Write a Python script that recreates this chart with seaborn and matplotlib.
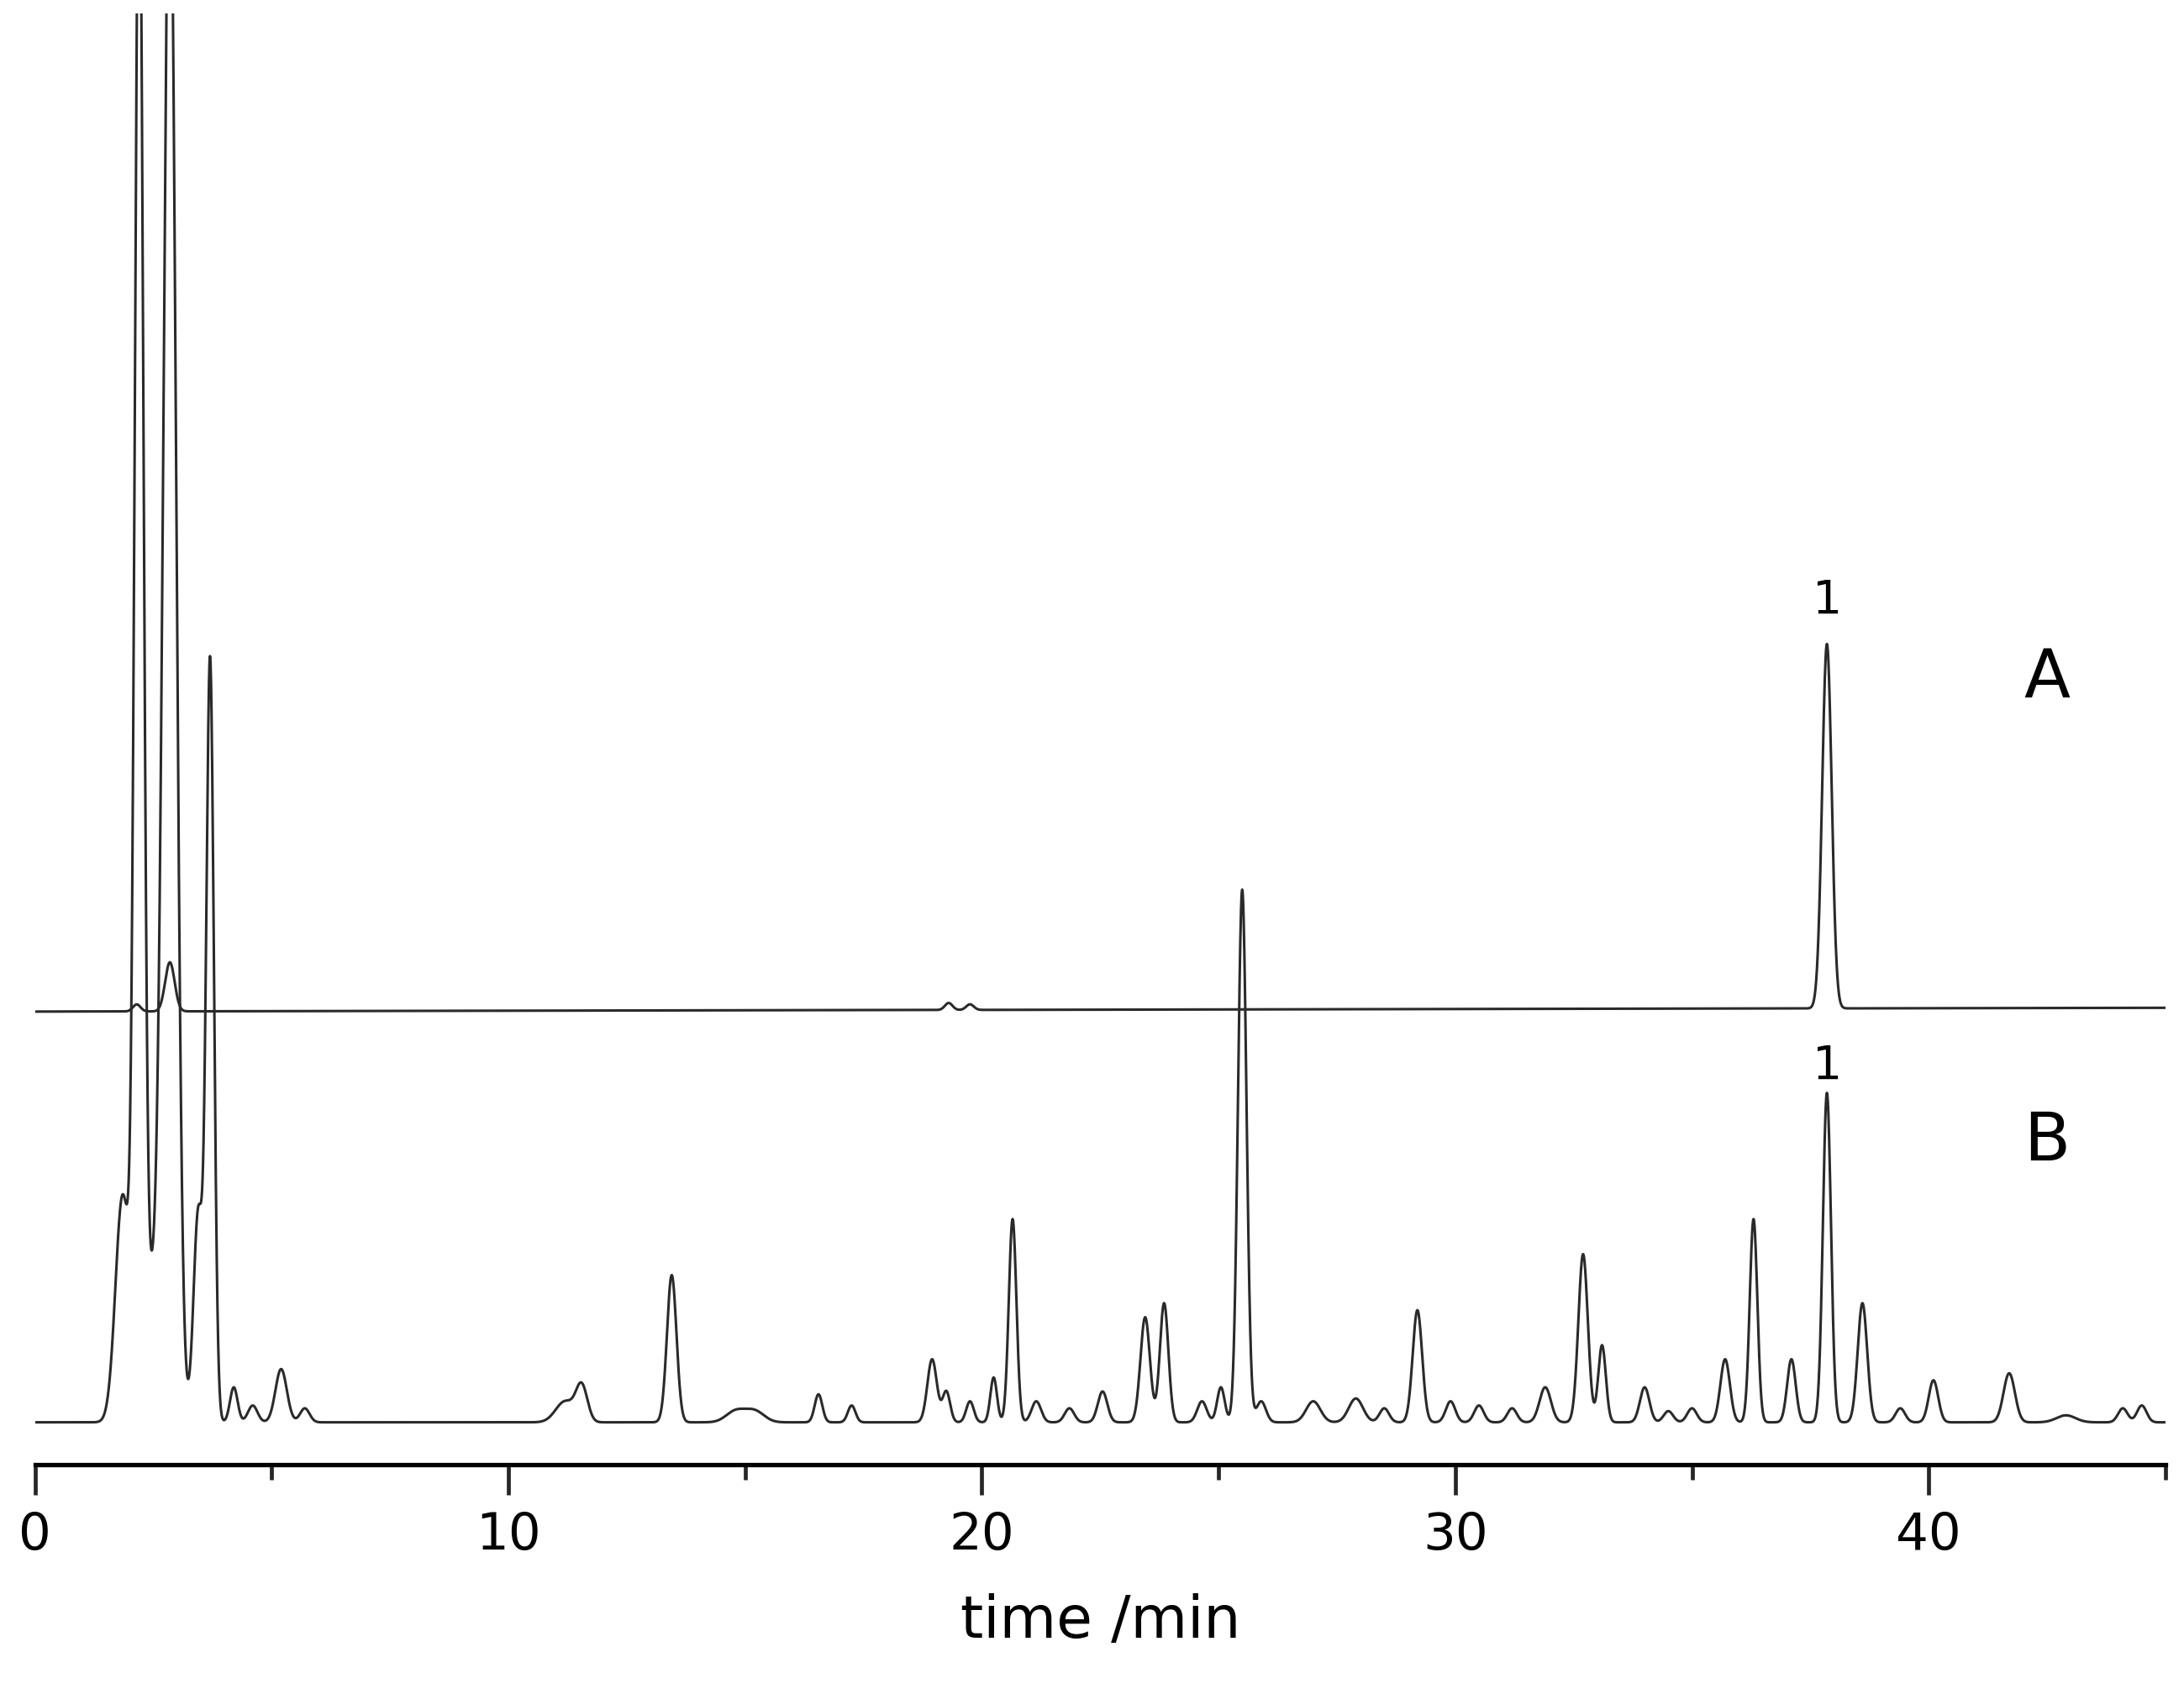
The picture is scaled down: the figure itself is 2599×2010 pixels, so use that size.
import numpy as np
import pandas as pd
import matplotlib
matplotlib.use("Agg")
import matplotlib.pyplot as plt
import seaborn as sns
from matplotlib.ticker import MultipleLocator

sns.set_theme(style="white")
plt.rcParams['font.family'] = ['DejaVu Sans']

# Trace B peaks (retention time /min, height, width)
b_times = [1.85, 2.2, 2.55, 2.85, 3.45, 3.7, 4.2, 4.6, 5.2, 5.7, 11.2, 11.55, 13.45, 14.8, 15.2, 16.55, 17.25,
           18.95, 19.25, 19.75, 20.25, 20.65, 21.15, 21.85, 22.55, 23.45, 23.85, 24.65, 25.05, 25.5, 25.9,
           27.0, 27.9, 28.5, 29.2, 29.9, 30.5, 31.2, 31.9, 32.7, 33.1, 34.0, 34.5, 35.0, 35.7,
           36.3, 37.1, 37.85, 38.6, 39.4, 40.1, 41.7, 42.9, 44.1, 44.5]
b_heights = [160, 1100, 100, 1100, 150, 540, 25, 12, 38, 10, 15, 25, 105, 8, 8, 20, 12,
             45, 22, 15, 32, 145, 15, 10, 22, 75, 85, 15, 25, 380, 15,
             15, 17, 10, 80, 15, 12, 10, 25, 120, 55, 25, 8, 10, 45,
             145, 45, 235, 85, 10, 30, 35, 5, 10, 12]
b_widths = [0.15, 0.09, 0.25, 0.13, 0.1, 0.08, 0.08, 0.1, 0.12, 0.1, 0.2, 0.12, 0.1, 0.2, 0.2, 0.08, 0.08,
            0.1, 0.08, 0.08, 0.07, 0.08, 0.1, 0.1, 0.1, 0.1, 0.09, 0.1, 0.08, 0.09, 0.1,
            0.15, 0.15, 0.1, 0.1, 0.1, 0.1, 0.1, 0.12, 0.1, 0.08, 0.1, 0.1, 0.1, 0.1,
            0.08, 0.09, 0.085, 0.1, 0.1, 0.1, 0.12, 0.2, 0.1, 0.1]
b_base = 30

# Trace A peaks
a_times = [2.15, 2.85, 19.3, 19.75, 37.85]
a_heights = [5, 35, 5, 4, 260]
a_widths = [0.08, 0.1, 0.08, 0.08, 0.1]
a_base = 323

t = np.arange(0, 45.01, 0.005)

def trace(times, heights, widths, base):
    y = np.full_like(t, base, dtype=float)
    for c, h, w in zip(times, heights, widths):
        y += h * np.exp(-0.5 * ((t - c) / w) ** 2)
    return y

yb = trace(b_times, b_heights, b_widths, b_base)
ya = trace(a_times, a_heights, a_widths, a_base) + 0.06 * t
df = pd.DataFrame({"time": np.concatenate([t, t]),
                   "signal": np.concatenate([ya, yb]),
                   "trace": ["A"] * len(t) + ["B"] * len(t)})

fig = plt.figure(figsize=(25.99, 20.10), dpi=100)
ax = fig.add_axes([0.016, 0.133, 0.9755, 0.859])
sns.lineplot(data=df, x="time", y="signal", units="trace", estimator=None,
             color="#2a2a2a", linewidth=2.2, ax=ax, legend=False)
ax.set_xlim(0, 45)
ax.set_ylim(0, 1035)
for s in ["left", "right", "top"]:
    ax.spines[s].set_visible(False)
ax.spines["bottom"].set_linewidth(3.8)
ax.spines["bottom"].set_color("black")
ax.set_yticks([])
ax.xaxis.set_major_locator(MultipleLocator(10))
ax.xaxis.set_minor_locator(MultipleLocator(5))
ax.tick_params(axis="x", which="major", direction="out", length=26, width=3.4,
               labelsize=44, bottom=True, pad=14, labelcolor="black")
ax.tick_params(axis="x", which="minor", direction="out", length=13, width=3.4, bottom=True)
ax.set_xlabel("time /min", fontsize=50, labelpad=28, color="black")
ax.set_ylabel("")

ax.text(37.85, 600, "1", fontsize=40, ha="center", va="bottom", color="black")
ax.text(37.85, 268, "1", fontsize=40, ha="center", va="bottom", color="black")
ax.text(42.5, 560, "A", fontsize=58, ha="center", va="center", color="black")
ax.text(42.5, 230, "B", fontsize=58, ha="center", va="center", color="black")

fig.savefig("out.png", dpi=100)
